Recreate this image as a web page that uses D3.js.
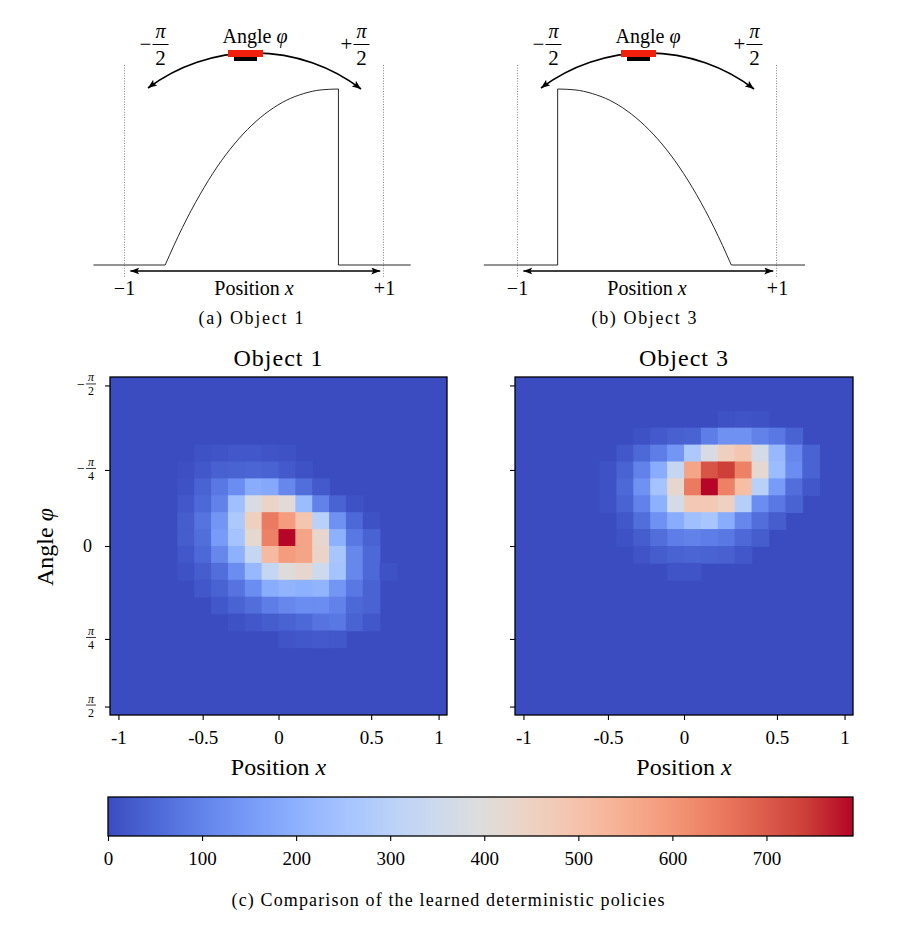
<!DOCTYPE html>
<html>
<head>
<meta charset="utf-8">
<script src="https://cdn.jsdelivr.net/npm/d3@7"></script>
<style>
  body { margin: 0; background: #fff; }
  svg { display: block; font-family: "Liberation Serif", serif; }
</style>
</head>
<body>
<div id="chart"></div>
<script>
// visit counts per cell, 20 x 20, row 0 is angle -pi/2, col 0 is x = -1
var object1Counts = [
  [0,0,0,0,0,0,0,0,0,0,0,0,0,0,0,0,0,0,0,0],
  [0,0,0,0,0,0,0,0,0,0,0,0,0,0,0,0,0,0,0,0],
  [0,0,0,0,0,0,0,0,0,0,0,0,0,0,0,0,0,0,0,0],
  [0,0,0,0,0,0,0,0,0,0,0,0,0,0,0,0,0,0,0,0],
  [0,0,0,0,0,10,15,20,20,15,10,0,0,0,0,0,0,0,0,0],
  [0,0,0,0,5,20,35,40,45,40,25,10,0,0,0,0,0,0,0,0],
  [0,0,0,0,10,40,80,120,190,180,110,60,25,0,0,0,0,0,0,0],
  [0,0,0,0,20,50,100,240,380,440,410,230,100,40,10,0,0,0,0,0],
  [0,0,0,0,30,70,140,270,460,650,590,490,300,130,50,10,0,0,0,0],
  [0,0,0,0,30,60,150,250,420,640,790,570,430,200,80,40,0,0,0,0],
  [0,0,0,0,20,50,110,200,330,520,590,570,440,260,110,50,0,0,0,0],
  [0,0,0,0,10,30,60,120,220,330,400,430,350,250,110,50,10,0,0,0],
  [0,0,0,0,0,20,40,70,120,190,210,200,210,140,80,40,0,0,0,0],
  [0,0,0,0,0,0,20,40,60,90,110,120,120,100,50,40,0,0,0,0],
  [0,0,0,0,0,0,0,10,20,30,40,50,70,80,40,20,0,0,0,0],
  [0,0,0,0,0,0,0,0,0,0,15,20,25,20,0,0,0,0,0,0],
  [0,0,0,0,0,0,0,0,0,0,0,0,0,0,0,0,0,0,0,0],
  [0,0,0,0,0,0,0,0,0,0,0,0,0,0,0,0,0,0,0,0],
  [0,0,0,0,0,0,0,0,0,0,0,0,0,0,0,0,0,0,0,0],
  [0,0,0,0,0,0,0,0,0,0,0,0,0,0,0,0,0,0,0,0]
];

var object3Counts = [
  [0,0,0,0,0,0,0,0,0,0,0,0,0,0,0,0,0,0,0,0],
  [0,0,0,0,0,0,0,0,0,0,0,0,0,0,0,0,0,0,0,0],
  [0,0,0,0,0,0,0,0,0,0,0,0,10,15,10,0,0,0,0,0],
  [0,0,0,0,0,0,0,10,25,35,40,90,130,130,100,80,40,0,0,0],
  [0,0,0,0,0,0,20,50,90,140,270,380,460,490,370,220,110,40,0,0],
  [0,0,0,0,0,10,40,100,190,330,570,710,740,640,420,230,120,40,0,0],
  [0,0,0,0,0,10,50,130,250,430,650,790,640,510,300,150,60,20,0,0],
  [0,0,0,0,0,10,40,100,200,370,480,480,450,290,120,80,40,0,0,0],
  [0,0,0,0,0,0,20,60,130,190,240,260,190,110,60,30,0,0,0,0],
  [0,0,0,0,0,0,10,30,60,90,100,90,80,50,30,0,0,0,0,0],
  [0,0,0,0,0,0,0,15,30,40,45,40,35,20,0,0,0,0,0,0],
  [0,0,0,0,0,0,0,0,0,15,15,0,0,0,0,0,0,0,0,0],
  [0,0,0,0,0,0,0,0,0,0,0,0,0,0,0,0,0,0,0,0],
  [0,0,0,0,0,0,0,0,0,0,0,0,0,0,0,0,0,0,0,0],
  [0,0,0,0,0,0,0,0,0,0,0,0,0,0,0,0,0,0,0,0],
  [0,0,0,0,0,0,0,0,0,0,0,0,0,0,0,0,0,0,0,0],
  [0,0,0,0,0,0,0,0,0,0,0,0,0,0,0,0,0,0,0,0],
  [0,0,0,0,0,0,0,0,0,0,0,0,0,0,0,0,0,0,0,0],
  [0,0,0,0,0,0,0,0,0,0,0,0,0,0,0,0,0,0,0,0],
  [0,0,0,0,0,0,0,0,0,0,0,0,0,0,0,0,0,0,0,0]
];

// tick positions in cell index units, and their labels
var xTickPos = [0, 5, 9.5, 15, 19];
var xTickLabels = ['-1', '-0.5', '0', '0.5', '1'];
var yTickPos = [0, 5, 9.5, 15, 19];
var yTickSigns = ['\u2212', '\u2212', '', '', ''];
var yTickDens = ['2', '4', '', '4', '2'];

var colorbarTicks = [0, 100, 200, 300, 400, 500, 600, 700];
var colorMax = 792;

// matplotlib coolwarm
var coolwarm = ['#3b4cc0', '#4d68d7', '#6282ea', '#779af7', '#8db0fe', '#a3c2ff',
  '#b8d0f9', '#ccd9ee', '#dddddd', '#ecd3c5', '#f5c4ad', '#f7b194', '#f49a7b',
  '#ec7f63', '#de604d', '#cb3e38', '#b40426'];

// object outlines in the sketches: position x and relative height
var object1CurveX = [-0.686, -0.619, -0.552, -0.418, -0.285, -0.151, -0.017, 0.117, 0.251, 0.384, 0.518, 0.652];
var object1CurveH = [0, 0.110, 0.214, 0.399, 0.557, 0.688, 0.794, 0.876, 0.936, 0.974, 0.995, 1.0];
var object3CurveX = [-0.69, -0.556, -0.422, -0.288, -0.154, -0.020, 0.115, 0.249, 0.383, 0.517, 0.584, 0.651];
var object3CurveH = [1.0, 0.995, 0.974, 0.936, 0.876, 0.794, 0.688, 0.557, 0.399, 0.214, 0.110, 0];

var W = 897, H = 935;
var svg = d3.select('#chart').append('svg')
  .attr('width', W).attr('height', H);
svg.append('rect').attr('width', W).attr('height', H).attr('fill', '#fff');

var defs = svg.append('defs');
defs.append('marker')
  .attr('id', 'arrow')
  .attr('markerUnits', 'userSpaceOnUse')
  .attr('markerWidth', 10).attr('markerHeight', 8)
  .attr('refX', 9).attr('refY', 3.5)
  .attr('orient', 'auto-start-reverse')
  .append('path')
  .attr('d', 'M0,0 L9,3.5 L0,7 L2,3.5 Z')
  .attr('fill', '#000');

var color = d3.scaleSequential(d3.piecewise(d3.interpolateRgb, coolwarm))
  .domain([0, colorMax]);

// ---------- top sketches ----------
function drawSketch(cx, curveX, curveH, baseFrom, baseTo, caption) {
  var g = svg.append('g');
  var sx = d3.scaleLinear().domain([-1, 1]).range([cx - 129.5, cx + 129.5]);
  var sy = d3.scaleLinear().domain([0, 1]).range([265, 89]);

  // dotted limits at -1 and +1
  g.selectAll('line.limit')
    .data([-1, 1])
    .enter().append('line')
      .attr('class', 'limit')
      .attr('x1', function (d) { return sx(d); })
      .attr('x2', function (d) { return sx(d); })
      .attr('y1', 65).attr('y2', 278)
      .attr('stroke', '#777')
      .attr('stroke-width', 0.9)
      .attr('stroke-dasharray', '1,1.6');

  var pts = curveX.map(function (x, i) { return [x, curveH[i]]; });
  var flat = d3.line()
    .x(function (d) { return sx(d[0]); })
    .y(function (d) { return sy(d[1]); });
  var smooth = d3.line()
    .x(function (d) { return sx(d[0]); })
    .y(function (d) { return sy(d[1]); })
    .curve(d3.curveMonotoneX);

  var first = pts[0], last = pts[pts.length - 1];
  g.append('path')
    .attr('d', flat([[baseFrom, 0], [first[0], 0], first]))
    .attr('fill', 'none').attr('stroke', '#111').attr('stroke-width', 0.9);
  g.append('path')
    .attr('d', smooth(pts))
    .attr('fill', 'none').attr('stroke', '#111').attr('stroke-width', 0.9);
  g.append('path')
    .attr('d', flat([last, [last[0], 0], [baseTo, 0]]))
    .attr('fill', 'none').attr('stroke', '#111').attr('stroke-width', 0.9);

  // angle arc with arrows
  g.append('path')
    .attr('d', 'M' + (cx - 106) + ',88 A177,177 0 0,1 ' + (cx + 107) + ',89')
    .attr('fill', 'none').attr('stroke', '#000').attr('stroke-width', 1.6)
    .attr('marker-start', 'url(#arrow)')
    .attr('marker-end', 'url(#arrow)');

  // the object on top
  g.append('rect')
    .attr('x', cx - 20).attr('y', 57).attr('width', 23).attr('height', 4)
    .attr('fill', '#000');
  g.append('rect')
    .attr('x', cx - 26).attr('y', 50).attr('width', 35).attr('height', 7)
    .attr('fill', '#f0200c');

  g.append('text')
    .attr('x', cx + 1).attr('y', 43)
    .attr('text-anchor', 'middle')
    .style('font-size', '20px')
    .html('Angle <tspan font-style="italic">\u03c6</tspan>');

  // -pi/2 and +pi/2
  [[-1, '\u2212'], [1, '+']].forEach(function (s) {
    var fx = cx + (s[0] < 0 ? -93.5 : 107.5);
    g.append('text')
      .attr('x', fx - 15).attr('y', 51)
      .attr('text-anchor', 'middle')
      .style('font-size', '21px')
      .text(s[1]);
    g.append('text')
      .attr('x', fx).attr('y', 38)
      .attr('text-anchor', 'middle')
      .style('font-size', '20px').style('font-style', 'italic')
      .text('\u03c0');
    g.append('line')
      .attr('x1', fx - 8).attr('x2', fx + 8)
      .attr('y1', 44.5).attr('y2', 44.5)
      .attr('stroke', '#000').attr('stroke-width', 1);
    g.append('text')
      .attr('x', fx).attr('y', 65)
      .attr('text-anchor', 'middle')
      .style('font-size', '21px')
      .text('2');
  });

  // position arrow
  g.append('line')
    .attr('x1', sx(-0.955)).attr('x2', sx(0.975))
    .attr('y1', 271).attr('y2', 271)
    .attr('stroke', '#000').attr('stroke-width', 1.3)
    .attr('marker-start', 'url(#arrow)')
    .attr('marker-end', 'url(#arrow)');

  g.append('text')
    .attr('x', sx(0)).attr('y', 295)
    .attr('text-anchor', 'middle')
    .style('font-size', '20px')
    .html('Position <tspan font-style="italic">x</tspan>');
  g.append('text')
    .attr('x', sx(-1)).attr('y', 295)
    .attr('text-anchor', 'middle')
    .style('font-size', '20px')
    .text('\u22121');
  g.append('text')
    .attr('x', sx(1) + 1).attr('y', 295)
    .attr('text-anchor', 'middle')
    .style('font-size', '20px')
    .text('+1');

  g.append('text')
    .attr('x', cx - 3).attr('y', 324)
    .attr('text-anchor', 'middle')
    .attr('textLength', 105)
    .attr('lengthAdjust', 'spacing')
    .style('font-size', '18px')
    .text(caption);
}

drawSketch(254, object1CurveX, object1CurveH, -1.24, 1.21, '(a) Object 1');
drawSketch(647, object3CurveX, object3CurveH, -1.26, 1.22, '(b) Object 3');

// ---------- heatmaps ----------
var panels = [
  {counts: object1Counts, x0: 110, x1: 447, title: 'Object 1', labels: true},
  {counts: object3Counts, x0: 515, x1: 853, title: 'Object 3', labels: false}
];
var hmTop = 377, hmBottom = 715;

panels.forEach(function (p) {
  var g = svg.append('g');
  var x = d3.scaleLinear().domain([-0.5, 19.5]).range([p.x0, p.x1]);
  var y = d3.scaleLinear().domain([-0.5, 19.5]).range([hmTop, hmBottom]);

  var cells = [];
  p.counts.forEach(function (row, j) {
    row.forEach(function (v, i) { cells.push({i: i, j: j, v: v}); });
  });

  // base layer so that no seams show between cells
  g.append('rect')
    .attr('x', p.x0).attr('y', hmTop)
    .attr('width', p.x1 - p.x0).attr('height', hmBottom - hmTop)
    .attr('fill', color(0));

  var cw = x(1) - x(0), ch = y(1) - y(0);
  g.selectAll('rect.cell')
    .data(cells.filter(function (d) { return d.v > 0; }))
    .enter().append('rect')
      .attr('class', 'cell')
      .attr('x', function (d) { return x(d.i - 0.5); })
      .attr('y', function (d) { return y(d.j - 0.5); })
      .attr('width', function (d) { return d.i < 19 ? cw + 0.8 : cw; })
      .attr('height', function (d) { return d.j < 19 ? ch + 0.8 : ch; })
      .attr('fill', function (d) { return color(d.v); });

  g.append('rect')
    .attr('x', p.x0).attr('y', hmTop)
    .attr('width', p.x1 - p.x0).attr('height', hmBottom - hmTop)
    .attr('fill', 'none').attr('stroke', '#000').attr('stroke-width', 1.3);

  var xAxis = d3.axisBottom(x)
    .tickValues(xTickPos)
    .tickFormat(function (d, i) { return xTickLabels[i]; })
    .tickSize(5).tickPadding(11);
  var xg = g.append('g')
    .attr('transform', 'translate(0,' + hmBottom + ')')
    .call(xAxis);
  xg.select('.domain').remove();
  xg.selectAll('line').attr('stroke', '#000').attr('stroke-width', 1.1);
  xg.selectAll('text')
    .style('font-family', '"Liberation Serif", serif')
    .style('font-size', '19px')
    .attr('fill', '#000');

  var yAxis = d3.axisLeft(y)
    .tickValues(yTickPos)
    .tickFormat('')
    .tickSize(5);
  var yg = g.append('g')
    .attr('transform', 'translate(' + p.x0 + ',0)')
    .call(yAxis);
  yg.select('.domain').remove();
  yg.selectAll('line').attr('stroke', '#000').attr('stroke-width', 1.1);

  if (p.labels) {
    yTickPos.forEach(function (pos, k) {
      var ty = y(pos);
      var fx = 91;
      if (yTickDens[k] === '') {
        g.append('text')
          .attr('x', 92).attr('y', ty + 6)
          .attr('text-anchor', 'end')
          .style('font-size', '18px')
          .text('0');
        return;
      }
      if (yTickSigns[k]) {
        g.append('text')
          .attr('x', fx - 10).attr('y', ty + 3.5)
          .attr('text-anchor', 'middle')
          .style('font-size', '14px')
          .text(yTickSigns[k]);
      }
      g.append('text')
        .attr('x', fx).attr('y', ty - 4)
        .attr('text-anchor', 'middle')
        .style('font-size', '12px').style('font-style', 'italic')
        .text('\u03c0');
      g.append('line')
        .attr('x1', fx - 5).attr('x2', fx + 5)
        .attr('y1', ty - 1.5).attr('y2', ty - 1.5)
        .attr('stroke', '#000').attr('stroke-width', 0.8);
      g.append('text')
        .attr('x', fx).attr('y', ty + 10)
        .attr('text-anchor', 'middle')
        .style('font-size', '12px')
        .text(yTickDens[k]);
    });

    g.append('text')
      .attr('transform', 'translate(53,547) rotate(-90)')
      .attr('text-anchor', 'middle')
      .style('font-size', '24px')
      .html('Angle <tspan font-style="italic">\u03c6</tspan>');
  }

  g.append('text')
    .attr('x', (p.x0 + p.x1) / 2).attr('y', 366)
    .attr('text-anchor', 'middle')
    .style('font-size', '24px')
    .style('letter-spacing', '1px')
    .text(p.title);

  g.append('text')
    .attr('x', (p.x0 + p.x1) / 2).attr('y', 775)
    .attr('text-anchor', 'middle')
    .style('font-size', '24px')
    .html('Position <tspan font-style="italic">x</tspan>');
});

// ---------- colorbar ----------
var cbX0 = 108, cbX1 = 853, cbY0 = 797, cbY1 = 836;
var cbScale = d3.scaleLinear().domain([0, colorMax]).range([cbX0, cbX1]);

var grad = defs.append('linearGradient')
  .attr('id', 'cbgrad')
  .attr('x1', '0%').attr('x2', '100%').attr('y1', '0%').attr('y2', '0%');
grad.selectAll('stop')
  .data(d3.range(0, 1.0001, 0.02))
  .enter().append('stop')
    .attr('offset', function (d) { return (d * 100) + '%'; })
    .attr('stop-color', function (d) { return color(d * colorMax); });

svg.append('rect')
  .attr('x', cbX0).attr('y', cbY0)
  .attr('width', cbX1 - cbX0).attr('height', cbY1 - cbY0)
  .attr('fill', 'url(#cbgrad)')
  .attr('stroke', '#000').attr('stroke-width', 1.3);

var cbAxis = d3.axisBottom(cbScale)
  .tickValues(colorbarTicks)
  .tickSize(5).tickPadding(11);
var cbg = svg.append('g')
  .attr('transform', 'translate(0,' + cbY1 + ')')
  .call(cbAxis);
cbg.select('.domain').remove();
cbg.selectAll('line').attr('stroke', '#000').attr('stroke-width', 1.1);
cbg.selectAll('text')
  .style('font-family', '"Liberation Serif", serif')
  .style('font-size', '19px')
  .attr('fill', '#000');

svg.append('text')
  .attr('x', 448).attr('y', 906)
  .attr('text-anchor', 'middle')
  .attr('textLength', 433)
  .attr('lengthAdjust', 'spacing')
  .style('font-size', '18px')
  .text('(c) Comparison of the learned deterministic policies');
</script>
</body>
</html>
